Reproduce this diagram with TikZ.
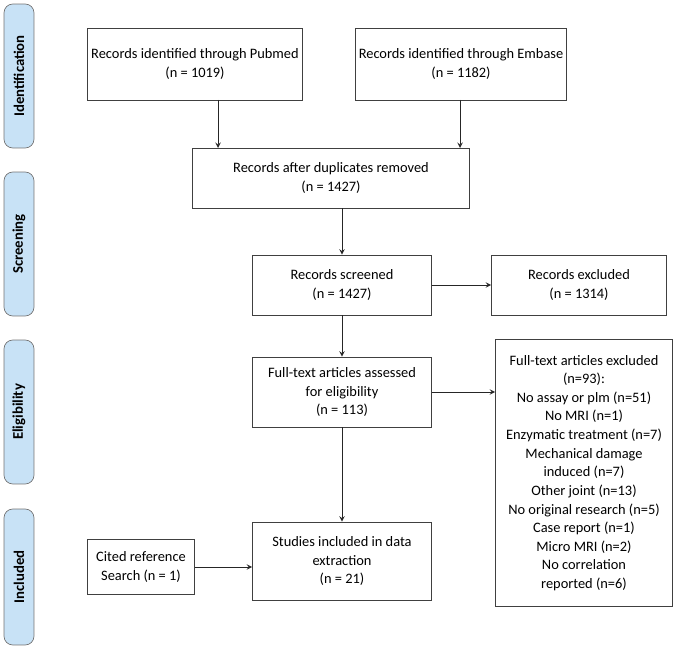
\documentclass[tikz,border=0pt]{standalone}
\usepackage{fontspec}
\setmainfont{Carlito}
\usetikzlibrary{positioning}
\begin{document}
\begin{tikzpicture}[
        x=0.02cm, y=-0.02cm,
        box/.style={draw=black!75, fill=white, align=center, font=\fontsize{8.2}{10.6}\selectfont, inner sep=2pt},
        stage/.style={draw=black!55, fill=stageblue, rounded corners=5pt, font=\bfseries\fontsize{8.4}{9}\selectfont, rotate=90, minimum height=0.6cm},
        arrow/.style={->, >=stealth, draw=black!85}
    ]

        \definecolor{stageblue}{RGB}{200, 226, 246}

        \useasboundingbox (0,0) rectangle (680,655);

        % stage labels
        \node[stage, minimum width=2.88cm] (sid) at (19,76) {Identification};
        \node[stage, minimum width=2.88cm] (ssc) at (19,244) {Screening};
        \node[stage, minimum width=2.88cm] (sel) at (19,412) {Eligibility};
        \node[stage, minimum width=2.72cm] (sin) at (19,577) {Included};

        % boxes
        \node[box, minimum width=4.28cm, minimum height=1.44cm] (pubmed) at (195,64) {Records identified through Pubmed\\(n = 1019)};
        \node[box, minimum width=4.16cm, minimum height=1.44cm] (embase) at (461,64) {Records identified through Embase\\(n = 1182)};
        \node[box, minimum width=5.54cm, minimum height=1.2cm] (dupl) at (331,178) {Records after duplicates removed\\(n = 1427)};
        \node[box, minimum width=3.58cm, minimum height=1.2cm] (screened) at (342,285) {Records screened\\(n = 1427)};
        \node[box, minimum width=3.5cm, minimum height=1.2cm] (excl) at (579,285) {Records excluded\\(n = 1314)};
        \node[box, minimum width=3.58cm, minimum height=1.4cm] (fulltext) at (342,392) {Full-text articles assessed\\for eligibility\\(n = 113)};
        \node[box, minimum width=3.54cm, minimum height=5.34cm] (ftexcl) at (584,473) {Full-text articles excluded\\(n=93):\\No assay or plm (n=51)\\No MRI (n=1)\\Enzymatic treatment (n=7)\\Mechanical damage\\induced (n=7)\\Other joint (n=13)\\No original research (n=5)\\Case report (n=1)\\Micro MRI (n=2)\\No correlation\\reported (n=6)};
        \node[box, minimum width=3.58cm, minimum height=1.56cm] (incl) at (342,561) {Studies included in data\\extraction\\(n = 21)};
        \node[box, minimum width=2.14cm, minimum height=1.1cm] (cited) at (141,567) {Cited reference\\Search (n = 1)};

        % arrows
        \draw[arrow] (218,100) -- (218,148);
        \draw[arrow] (460,100) -- (460,148);
        \draw[arrow] (dupl.south -| screened) -- (screened);
        \draw[arrow] (screened) -- (excl);
        \draw[arrow] (screened) -- (fulltext);
        \draw[arrow] (fulltext.east) -- (fulltext.east -| ftexcl.west);
        \draw[arrow] (fulltext) -- (incl);
        \draw[arrow] (cited) -- (cited -| incl.west);
    \end{tikzpicture}
\end{document}
